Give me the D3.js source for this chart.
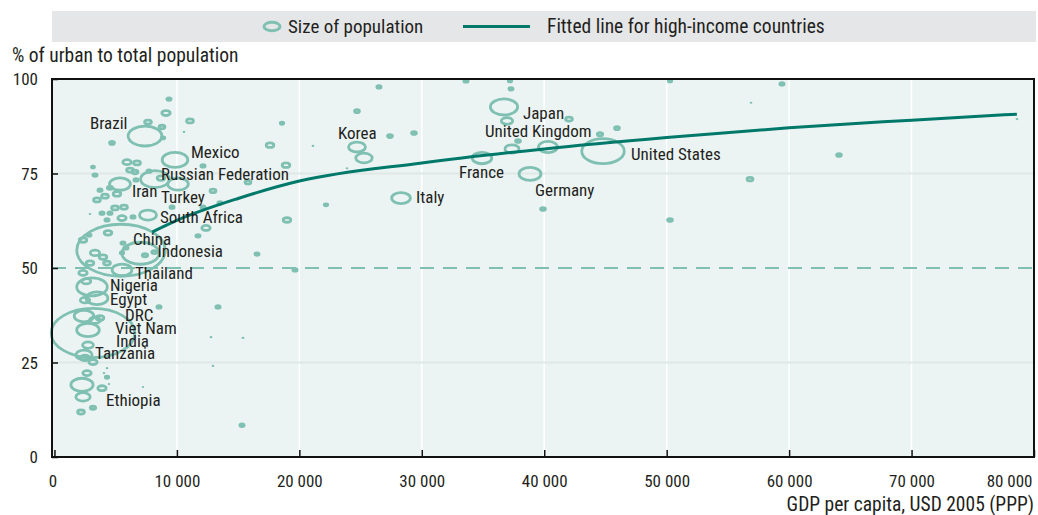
<!DOCTYPE html>
<html><head><meta charset="utf-8">
<script src="https://cdn.jsdelivr.net/npm/d3@7"></script>
<style>
html,body{margin:0;padding:0;background:#fff;}
svg text{font-family:"Liberation Sans Narrow","Arial Narrow","Roboto Condensed","Liberation Sans",sans-serif;fill:#231f20;}
</style></head>
<body><svg id="c" width="1038" height="515"></svg>
<script>
// ---------- DATA ----------
const names = ["Japan","United Kingdom","United States","France","Germany","Korea","Italy","Brazil","Mexico","Russian Federation","Iran","Turkey","South Africa","China","Indonesia","Thailand","Nigeria","Egypt","DRC","Viet Nam","India","Tanzania","Ethiopia"];
const gdp = [36715,40308,44800,34918,38838,24709,28303,7395,9845,8212,5353,10090,7640,5435,7030,5517,3067,3475,2413,2740,3148,2413,2250,
36960,37286,37204,33611,26506,24709,18584,42023,45943,44555,37368,37858,25281,27404,29364,21116,23892,22177,18911,18992,39900,50272,59419,56887,64074,56806,50272,78611,17604,15807,19646,16542,12377,11724,12949,12132,9600,12132,13520,8539,13357,12785,15399,12949,15317,8212,7232,4455,4292,4047,4292,3883,2658,2495,2168,3148,2332,
9355,9110,11070,7640,8784,8866,10580,4700,5925,6742,6170,6578,7722,3148,3311,8702,6660,5108,4128,3720,3475,4537,5517,6415,4945,5680,3883,4292,2903,4537,
2332,2822,4373,5598,5843,5517,3311,3965,2903,4292,2332,7395,8167,2495,3311,2740,3720,3148,2600];
const urban = [92.6,82.0,80.9,79.1,74.9,82.0,68.5,84.9,78.6,73.5,72.2,72.2,64.0,54.7,53.9,49.5,45.0,42.0,37.3,33.6,32.8,27.0,19.1,
88.9,97.4,99.5,99.5,97.9,91.5,88.3,89.4,87.0,85.4,81.5,83.6,79.1,84.9,85.7,82.3,76.4,66.7,77.2,62.7,65.6,99.5,98.7,93.7,79.9,73.5,62.7,89.4,82.5,72.7,49.5,53.7,60.6,58.5,70.4,77.0,66.1,66.1,67.2,39.7,39.7,31.7,31.5,24.1,8.4,35.4,18.5,19.3,23.5,22.2,21.1,18.2,22.2,26.2,11.9,13.0,15.9,
94.7,91.0,88.9,88.6,87.3,84.4,86.0,83.1,78.0,77.8,75.9,75.4,75.6,76.7,74.6,73.8,73.3,69.6,69.0,70.6,68.0,71.2,63.2,63.5,65.9,66.1,64.5,62.7,64.3,64.5,
57.4,58.7,59.3,56.6,55.3,54.0,54.0,52.9,51.3,51.3,48.7,53.4,54.2,41.5,36.2,29.6,36.8,25.1,46.5];
const population = [127,62,310,65,82,49,60,195,113,142,75,73,50,1340,240,67,160,81,66,88,1200,45,85,
22,3,2,3,3,4,2,8,4,5,34,4,46,4,4,0.4,0.4,2,10,10,4,2,3,0.4,4,6,4,0.5,10,6,3,3,12,3,6,3,3,3,3,3,3,0.4,0.5,0.4,3,0.3,0.3,0.4,0.4,0.4,2,12,12,15,8,5,35,
3,12,8,8,6,2,0.4,4,12,8,8,6,3,1.5,3,10,3,10,8,3,8,5,12,3,8,8,3,3,0.4,3,
10,3,10,3,3,2,15,10,10,8,12,5,5,15,20,20,10,12,14];
// fitted line for high-income countries
const fitGdp   = [7970, 10000, 15000, 20000, 30000, 40000, 50000, 60000, 70000, 78600];
const fitUrban = [59.5, 62.6, 68.4, 73.0, 77.8, 81.5, 84.5, 87.1, 89.1, 90.7];
const xTicks = [0,10000,20000,30000,40000,50000,60000,70000,80000];
const yTicks = [0,25,50,75,100];
const legendLabels = ["Size of population","Fitted line for high-income countries"];
const yTitle = "% of urban to total population";
const xTitle = "GDP per capita, USD 2005 (PPP)";

// ---------- LAYOUT ----------
const labelOffsets = {
 "Brazil":[-55,-7],"Mexico":[16,-2],"Russian Federation":[6,1],"Iran":[12,13],"Turkey":[-17,19],
 "South Africa":[12,8],"China":[12,-5],"Indonesia":[17,4],"Thailand":[13,9],"Nigeria":[18,4],
 "Egypt":[13,7],"DRC":[41,5],"Viet Nam":[27,4],"India":[23,14],"Tanzania":[11,4],"Ethiopia":[24,21],
 "Korea":[-19,-8],"Italy":[15,5],"Japan":[19,12],"United Kingdom":[-63,-10],"France":[-23,20],
 "Germany":[5,22],"United States":[28,9]
};
const bubbleCol = "#7fc0b2", lineCol = "#00796b";
const svg = d3.select("#c");
const L=52, R=1034, T=79, B=457;
const x = d3.scaleLinear().domain([-200,80000]).range([L,R]);
const y = d3.scaleLinear().domain([0,100]).range([B,T]);
const r = d3.scaleSqrt().domain([0,1340]).range([0,26]);
const stretch = 1.7;

// legend
svg.append("rect").attr("x",52).attr("y",11).attr("width",984).attr("height",31).attr("fill","#e5e6e8");
svg.append("ellipse").attr("cx",272).attr("cy",26.5).attr("rx",8).attr("ry",4.2)
  .attr("fill","none").attr("stroke",bubbleCol).attr("stroke-width",3);
svg.append("text").attr("x",288).attr("y",33).attr("font-size",19).text(legendLabels[0]);
svg.append("line").attr("x1",463).attr("x2",530).attr("y1",26.5).attr("y2",26.5).attr("stroke",lineCol).attr("stroke-width",3);
svg.append("text").attr("x",547).attr("y",33).attr("font-size",19.5).text(legendLabels[1]);

// plot background
svg.append("rect").attr("x",L).attr("y",T).attr("width",R-L).attr("height",B-T).attr("fill","#ecf4f3");
// vertical grid
svg.append("g").selectAll("line").data(xTicks.slice(1,-1)).join("line")
  .attr("x1",d=>x(d)).attr("x2",d=>x(d)).attr("y1",T).attr("y2",B)
  .attr("stroke","#ffffff").attr("stroke-width",1.5);
// horizontal grid 25,75
svg.append("g").selectAll("line").data([25,75]).join("line")
  .attr("x1",L).attr("x2",R).attr("y1",d=>y(d)).attr("y2",d=>y(d))
  .attr("stroke","#dde8e7").attr("stroke-width",2);
// dashed 50
svg.append("line").attr("x1",L).attr("x2",R).attr("y1",y(50)).attr("y2",y(50))
  .attr("stroke",bubbleCol).attr("stroke-width",2).attr("stroke-dasharray","14,9");

// bubbles
const pts = gdp.map((g,i)=>({name:names[i]||"",g:g,u:urban[i],p:population[i]}));
pts.sort((a,b)=>b.p-a.p);
svg.append("g").selectAll("ellipse").data(pts).join("ellipse")
  .attr("cx",d=>x(d.g)).attr("cy",d=>y(d.u))
  .attr("rx",d=>r(d.p)*stretch).attr("ry",d=>r(d.p))
  .attr("fill","none").attr("stroke",bubbleCol)
  .attr("stroke-width",d=>r(d.p)<0.6?1.2:2.8);

// fitted line
svg.append("path").datum(fitGdp.map((g,i)=>[g,fitUrban[i]]))
  .attr("d",d3.line().x(d=>x(d[0])).y(d=>y(d[1])).curve(d3.curveMonotoneX))
  .attr("fill","none").attr("stroke",lineCol).attr("stroke-width",3);

// labels
svg.append("g").selectAll("text").data(pts.filter(d=>d.name)).join("text")
  .attr("x",d=>x(d.g)+labelOffsets[d.name][0]).attr("y",d=>y(d.u)+labelOffsets[d.name][1])
  .attr("font-size",17).text(d=>d.name);

// axes frame
svg.append("rect").attr("x",L).attr("y",T).attr("width",R-L).attr("height",B-T)
  .attr("fill","none").attr("stroke","#111").attr("stroke-width",2);
const xAxis = d3.axisBottom(x).tickValues(xTicks).tickSizeInner(-7).tickSizeOuter(0)
  .tickFormat(d=>d3.format(",")(d).replace(/,/g," "));
const gx = svg.append("g").attr("transform",`translate(0,${B})`).call(xAxis);
gx.select(".domain").remove();
gx.selectAll(".tick line").attr("stroke","#111").attr("stroke-width",1.5);
gx.selectAll(".tick text").attr("font-size",17).attr("y",30).attr("dy",0).style("fill","#231f20");
gx.selectAll(".tick text").filter(d=>d===80000).attr("text-anchor","end").attr("x",-2);
gx.selectAll(".tick text").filter(d=>d===0).attr("x",-2);
const yAxis = d3.axisLeft(y).tickValues(yTicks).tickSizeInner(-6).tickSizeOuter(0);
const gy = svg.append("g").attr("transform",`translate(${L},0)`).call(yAxis);
gy.select(".domain").remove();
gy.selectAll(".tick line").attr("stroke","#111").attr("stroke-width",1.5);
gy.selectAll(".tick text").attr("font-size",17).attr("x",-14).attr("dy","0.35em").style("fill","#231f20");
svg.selectAll(".tick text").attr("font-family",null);

svg.append("text").attr("x",12).attr("y",62).attr("font-size",19.5).text(yTitle);
svg.append("text").attr("x",1034).attr("y",511).attr("text-anchor","end").attr("font-size",19.5).text(xTitle);
</script></body></html>
